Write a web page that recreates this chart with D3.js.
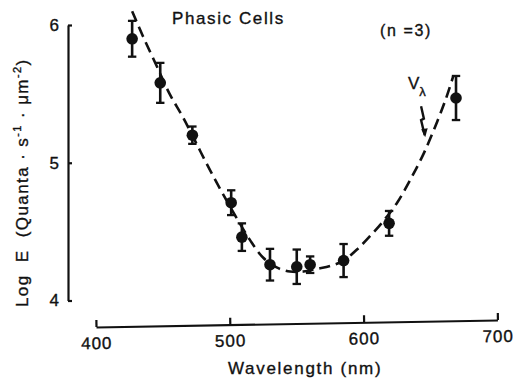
<!DOCTYPE html>
<html>
<head>
<meta charset="utf-8">
<script src="https://cdn.jsdelivr.net/npm/d3@7"></script>
<style>
  body { margin: 0; background: #fff; }
  svg { display: block; font-family: "Liberation Sans", Arial, Helvetica, sans-serif; }
  .tekst { fill: #111; stroke: #111; stroke-width: 0.35px; }
</style>
</head>
<body>
<div id="okvir"></div>
<script>
// measured points (mean +- error)
const wavelengths = [427, 448, 472, 501, 509, 530, 550, 560, 585, 619, 669];
const logE = [5.90, 5.58, 5.20, 4.71, 4.46, 4.26, 4.245, 4.26, 4.29, 4.56, 5.47];
const errors = [0.13, 0.145, 0.063, 0.09, 0.1, 0.115, 0.125, 0.06, 0.12, 0.09, 0.16];

// dashed V-lambda curve
const curveWavelengths = [427, 435, 445, 455, 465, 475, 485, 495, 505, 515, 525, 535, 545, 555, 565, 575, 585, 595, 605, 615, 625, 635, 645, 655, 662, 667];
const curveLogE = [6.10, 5.92, 5.71, 5.50, 5.33, 5.14, 4.95, 4.77, 4.60, 4.44, 4.31, 4.24, 4.21, 4.21, 4.23, 4.25, 4.29, 4.37, 4.47, 4.58, 4.71, 4.88, 5.07, 5.30, 5.48, 5.63];

// squiggly arrow under the V-lambda label
const arrowWavelengths = [642.9, 645.0, 642.9, 645.6];
const arrowLogE = [5.41, 5.32, 5.31, 5.20];

const xTicks = [400, 500, 600, 700];
const yTicks = [4, 5, 6];

const crtaj = () => {
  //1. data
  const tocke = wavelengths.map((w, i) => ({ w: w, e: logE[i], err: errors[i] }));
  const krivulja = curveWavelengths.map((w, i) => ({ w: w, e: curveLogE[i] }));
  const strelica = arrowWavelengths.map((w, i) => ({ w: w, e: arrowLogE[i] }));

  //2. dimensions
  const dim = { width: 513, height: 378 };

  const svg = d3.select("#okvir")
    .append("svg")
      .attr("width", dim.width)
      .attr("height", dim.height);

  //3. scales
  const xScale = d3.scaleLinear().domain([400, 700]).range([96, 497.5]);
  const yScale = d3.scaleLinear().domain([4, 6]).range([300.5, 25]);

  //4. axes
  const yAxis = svg.append("g")
    .attr("transform", "translate(68,0)")
    .call(d3.axisLeft(yScale).tickValues(yTicks).tickFormat(d3.format("d"))
      .tickSizeInner(-4).tickSizeOuter(0).tickPadding(9));
  yAxis.select(".domain").attr("stroke-width", 2.2).attr("stroke", "#111");
  yAxis.selectAll(".tick line").attr("stroke-width", 2.2).attr("stroke", "#111");
  yAxis.selectAll(".tick text")
    .attr("class", "tekst")
    .style("font-size", "17px")
    .style("font-family", "inherit");

  // the x axis in the picture sits a bit tilted
  const xAxis = svg.append("g")
    .attr("transform", "translate(0,327) rotate(-1,96,0)")
    .call(d3.axisBottom(xScale).tickValues(xTicks).tickFormat(d3.format("d"))
      .tickSizeInner(-7).tickSizeOuter(0).tickPadding(10));
  xAxis.select(".domain").attr("stroke-width", 2.2).attr("stroke", "#111");
  xAxis.selectAll(".tick line").attr("stroke-width", 2.2).attr("stroke", "#111");
  xAxis.selectAll(".tick text")
    .attr("class", "tekst")
    .style("font-size", "17px")
    .style("letter-spacing", "1px")
    .style("font-family", "inherit");

  //5. curve
  const linija = d3.line()
    .x(d => xScale(d.w))
    .y(d => yScale(d.e))
    .curve(d3.curveCatmullRom);

  svg.append("path")
    .attr("d", linija(krivulja))
    .attr("fill", "none")
    .attr("stroke", "#111")
    .attr("stroke-width", 2.6)
    .attr("stroke-dasharray", "11,6");

  //6. points with error bars
  const grupe = svg.selectAll(".tocka")
    .data(tocke)
    .join("g")
      .attr("class", "tocka");

  grupe.append("line")
    .attr("x1", d => xScale(d.w)).attr("x2", d => xScale(d.w))
    .attr("y1", d => yScale(d.e + d.err)).attr("y2", d => yScale(d.e - d.err))
    .attr("stroke", "#111").attr("stroke-width", 2.6);

  [1, -1].forEach(s => {
    grupe.append("line")
      .attr("x1", d => xScale(d.w) - 4.2).attr("x2", d => xScale(d.w) + 4.2)
      .attr("y1", d => yScale(d.e + s * d.err)).attr("y2", d => yScale(d.e + s * d.err))
      .attr("stroke", "#111").attr("stroke-width", 2.3);
  });

  grupe.append("circle")
    .attr("cx", d => xScale(d.w))
    .attr("cy", d => yScale(d.e))
    .attr("r", 5.8)
    .attr("fill", "#111");

  //7. labels
  svg.append("text")
    .attr("class", "tekst")
    .attr("x", 172).attr("y", 24)
    .style("font-size", "17px")
    .style("letter-spacing", "1.6px")
    .text("Phasic Cells");

  svg.append("text")
    .attr("class", "tekst")
    .attr("x", 380).attr("y", 36)
    .style("font-size", "16px")
    .style("letter-spacing", "1.6px")
    .text("(n =3)");

  const vl = svg.append("text")
    .attr("class", "tekst")
    .attr("x", 408).attr("y", 89)
    .style("font-size", "17px");
  vl.append("tspan").text("V");
  vl.append("tspan").attr("dy", 7).style("font-size", "13px").text("λ");

  svg.append("path")
    .attr("d", d3.line().x(d => xScale(d.w)).y(d => yScale(d.e))(strelica))
    .attr("fill", "none")
    .attr("stroke", "#111")
    .attr("stroke-width", 2.4);

  const kraj = strelica[strelica.length - 1];
  const kx = xScale(kraj.w), ky = yScale(kraj.e);
  svg.append("path")
    .attr("d", `M${kx - 3.5},${ky - 6} L${kx + 3},${ky - 7} L${kx + 0.5},${ky + 2} Z`)
    .attr("fill", "#111");

  svg.append("text")
    .attr("class", "tekst")
    .attr("x", 228).attr("y", 374)
    .style("font-size", "17px")
    .style("letter-spacing", "1.7px")
    .text("Wavelength (nm)");

  const yl = svg.append("text")
    .attr("class", "tekst")
    .attr("transform", "translate(28,307) rotate(-90)")
    .style("font-size", "17px")
    .style("letter-spacing", "1.4px")
    .attr("xml:space", "preserve");
  yl.append("tspan").text("Log  E  (Quanta · s");
  yl.append("tspan").attr("dy", -7).style("font-size", "11px").text("-1");
  yl.append("tspan").attr("dy", 7).text(" · μm");
  yl.append("tspan").attr("dy", -7).style("font-size", "11px").text("-2");
  yl.append("tspan").attr("dy", 7).text(")");
};

crtaj();
</script>
</body>
</html>
